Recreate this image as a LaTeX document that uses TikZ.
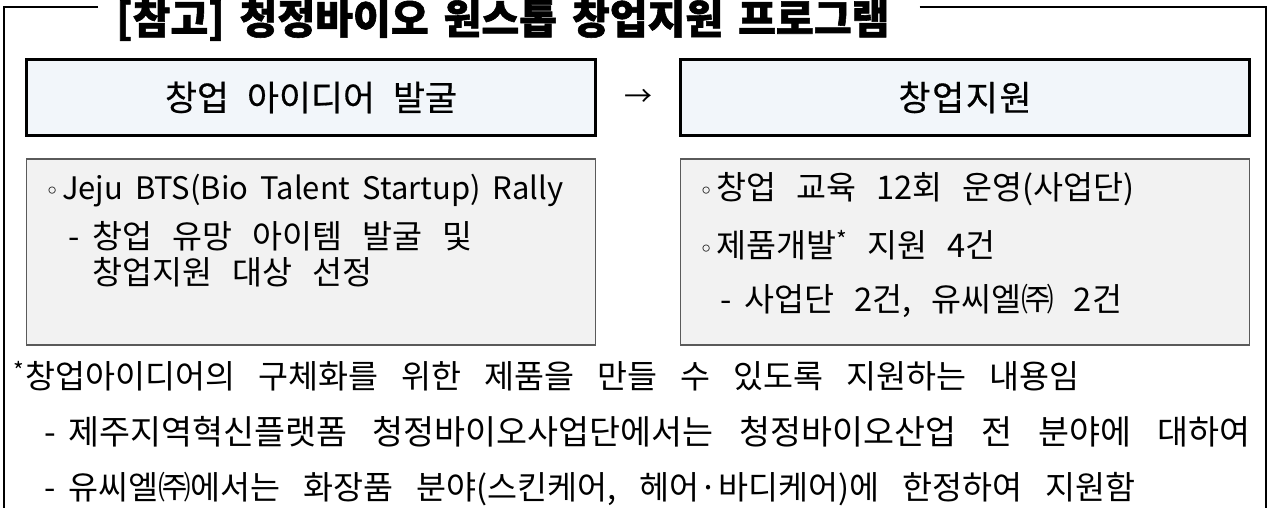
\documentclass[tikz,border=0pt]{standalone}
\usepackage{fontspec}
\setmainfont{Noto Sans CJK KR}
\newfontfamily\hdrfont{Noto Sans CJK KR}[FakeBold=0.5]
\newfontfamily\ttlfont{Noto Sans CJK KR}[BoldFeatures={FakeBold=1.4}]
\newfontfamily\symfont{DejaVu Sans}
% size the font so that one Hangul syllable is #1 pt wide
\newlength\hgw
\newcommand\pitchto[1]{\fontsize{20}{20}\selectfont\settowidth{\hgw}{가}%
  \pgfmathsetmacro\pfs{20*#1/\hgw}\fontsize{\pfs pt}{\pfs pt}\selectfont}
\newcommand\obul{\llap{{\symfont\fontsize{24}{24}\selectfont ◦}\hspace{3pt}}}
\newcommand\ndash{\llap{-\hspace{12pt}}}
\definecolor{hdrfill}{RGB}{242,246,250}
\definecolor{cntfill}{RGB}{242,242,242}
\definecolor{cntline}{RGB}{90,90,90}

\tikzset{
  framer/.style={line width=1.3pt, black},
  hdrbox/.style={draw=black, line width=2.6pt, fill=hdrfill, minimum width=569, minimum height=76, font={\hdrfont\pitchto{32}\spaceskip=18pt}},
  cntbox/.style={draw=cntline, line width=1.6pt, fill=cntfill, minimum width=569, minimum height=186},
  txt/.style={anchor=west, inner sep=0pt, font={\pitchto{30}\frenchspacing\spaceskip=20pt plus 8pt minus 6pt}},
  notetxt/.style={txt, font={\pitchto{30}\frenchspacing\spaceskip=23pt plus 8pt minus 6pt}},
}

\begin{document}
\begin{tikzpicture}[x=1pt, y=-1pt]
\useasboundingbox (0,0) rectangle (1273,508);

% title and outer frame
\node[anchor=west, inner sep=0pt, font={\ttlfont\bfseries\pitchto{37.8}\spaceskip=15pt}] (ttl) at (116,20) {[참고] 청정바이오 원스톱 창업지원 프로그램};
\coordinate (gapL) at ([xshift=-18pt]ttl.west);
\coordinate (gapR) at ([xshift=30pt]ttl.east);
\draw[framer] (gapL |- 0,7) -- (4,7) -- (4,520);
\draw[framer] (gapR |- 0,7) -- (1266,7) -- (1266,520);

% headers
\node[hdrbox] (hdrL) at (311,97.5) {창업 아이디어 발굴};
\node[hdrbox] (hdrR) at (965,97.5) {창\kern1.7pt 업\kern1.7pt 지\kern1.7pt 원};
\node[inner sep=0pt, font=\fontsize{28}{30}\selectfont] (arr) at (638,98) {→};

% content boxes
\node[cntbox] (cntL) at (311,252) {};
\node[cntbox] (cntR) at (965,252) {};

\node[txt] (btsA) at (62,191) {\obul{\pitchto{28.5}\spaceskip=12pt Jeju BTS(Bio Talent Startup) Rally}};
\node[txt] (btsB) at (92,236) {\ndash 창업 유망 아이템 발굴 및};
\node[txt] (btsC) at (92,272) {창업지원 대상 선정};

\node[txt] (supA) at (716,189) {\obul 창업 교육 12회 운영(사업단)};
\node[txt] (supB) at (716,245) {\obul 제품개발\textsuperscript{*} 지원 4건};
\node[txt] (supC) at (744,301) {\ndash 사업단 2건, 유씨엘㈜ 2건};

% footnote
\node[notetxt] (noteA) at (25,376) {\llap{\textsuperscript{*}\hspace{1pt}}창업아이디어의 구체화를 위한 제품을 만들 수 있도록 지원하는 내용임};
\node[notetxt] (noteB) at (68,432) {\pitchto{31}\ndash\makebox[1182pt][s]{제주지역혁신플랫폼 청정바이오사업단에서는 청정바이오산업 전 분야에 대하여}};
\node[notetxt] (noteC) at (68,489) {\ndash 유씨엘㈜에서는 화장품 분야(스킨케어, 헤어·바디케어)에 한정하여 지원함};

\end{tikzpicture}
\end{document}
